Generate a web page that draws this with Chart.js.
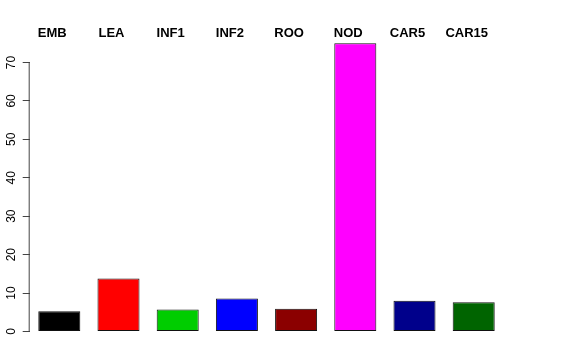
<!DOCTYPE html>
<html>
<head>
<meta charset="utf-8">
<script src="https://cdn.jsdelivr.net/npm/chart.js@4/dist/chart.umd.min.js"></script>
<style>
  html, body { margin: 0; padding: 0; background: #fff; }
  #wrap { width: 576px; height: 360px; }
</style>
</head>
<body>
<div id="wrap"><canvas id="myChart" width="576" height="360"></canvas></div>
<script>
var tissues = ["EMB", "LEA", "INF1", "INF2", "ROO", "NOD", "CAR5", "CAR15"];
var values = [5.3, 13.8, 5.7, 8.6, 5.9, 75.0, 8.0, 7.6];
var barColors = ["#000000", "#FF0000", "#00CD00", "#0000FF", "#8B0000", "#FF00FF", "#00008B", "#006400"];
var yTicks = [0, 10, 20, 30, 40, 50, 60, 70];

// R-style axis line: only from first to last tick
var axisLine = {
  id: 'axisLine',
  afterDraw: function(chart) {
    var y = chart.scales.y;
    var ctx = chart.ctx;
    var x = chart.chartArea.left - 0.5;
    ctx.save();
    ctx.strokeStyle = '#444';
    ctx.lineWidth = 1;
    ctx.beginPath();
    ctx.moveTo(x, y.getPixelForValue(yTicks[0]));
    ctx.lineTo(x, y.getPixelForValue(yTicks[yTicks.length - 1]));
    ctx.stroke();
    ctx.restore();
  }
};

var ctx = document.getElementById("myChart").getContext('2d');
var myChart = new Chart(ctx, {
  type: 'bar',
  data: {
    labels: tissues,
    datasets: [{
      data: values,
      backgroundColor: barColors,
      borderColor: '#111',
      borderWidth: 1,
      borderSkipped: false,
      categoryPercentage: 1.0,
      barPercentage: 0.71
    }]
  },
  options: {
    responsive: false,
    animation: false,
    layout: { padding: { left: 0, right: 72.7, top: 0, bottom: 28.5 } },
    plugins: { legend: { display: false }, tooltip: { enabled: false } },
    scales: {
      x: {
        position: 'top',
        grid: { display: false, drawTicks: false },
        border: { display: false },
        ticks: {
          padding: -2,
          labelOffset: -7,
          color: '#000',
          font: { family: "'Liberation Sans', Arial, sans-serif", size: 13, weight: 'bold' }
        },
        afterFit: function(s) { s.height = 39.4; }
      },
      y: {
        min: 0,
        max: 76,
        border: { display: false },
        grid: { drawOnChartArea: false, drawTicks: true, tickLength: 7, color: '#444' },
        afterBuildTicks: function(s) { s.ticks = yTicks.map(function(v) { return { value: v }; }); },
        ticks: {
          minRotation: 90,
          maxRotation: 90,
          crossAlign: 'center',
          padding: 4,
          color: '#000',
          font: { family: "'Liberation Sans', Arial, sans-serif", size: 12 }
        },
        afterFit: function(s) { s.width = 29.7; }
      }
    }
  },
  plugins: [axisLine]
});
</script>
</body>
</html>
